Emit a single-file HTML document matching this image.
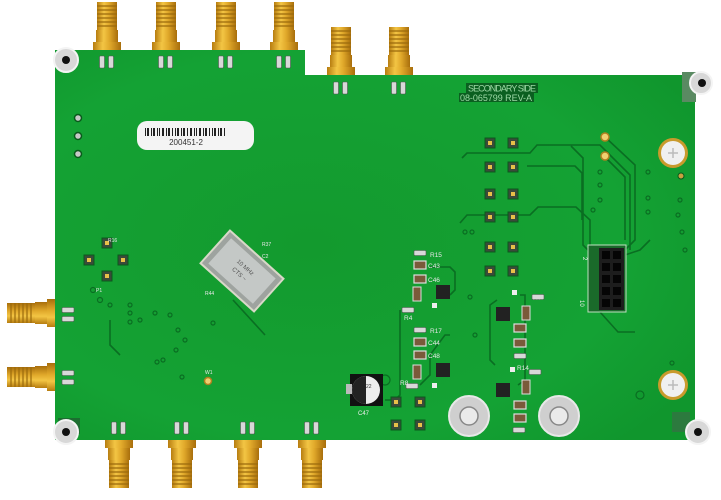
<!DOCTYPE html>
<html><head><meta charset="utf-8"><style>
html,body{margin:0;padding:0;background:#fff;}
svg{display:block;}
text{font-family:"Liberation Sans",sans-serif;}
</style></head><body>
<svg width="721" height="500" viewBox="0 0 721 500" xmlns="http://www.w3.org/2000/svg">
<defs>
<linearGradient id="gold" x1="0" x2="1" y1="0" y2="0">
<stop offset="0" stop-color="#b77d10"/><stop offset="0.35" stop-color="#f3c544"/><stop offset="0.6" stop-color="#e0a82a"/><stop offset="1" stop-color="#a86e0c"/></linearGradient>
<linearGradient id="goldv" x1="0" x2="0" y1="0" y2="1">
<stop offset="0" stop-color="#b77d10"/><stop offset="0.35" stop-color="#f3c544"/><stop offset="0.6" stop-color="#e0a82a"/><stop offset="1" stop-color="#a86e0c"/></linearGradient>
<radialGradient id="brd" cx="0.4" cy="0.5" r="0.7">
<stop offset="0" stop-color="#139a2e"/><stop offset="0.7" stop-color="#14a234"/><stop offset="1" stop-color="#10962d"/></radialGradient>
<g id="smaV">
<rect x="-14" y="-8" width="28" height="10" fill="url(#gold)"/>
<rect x="-11" y="-20" width="22" height="12" fill="url(#gold)"/>
<rect x="-10" y="-48" width="20" height="28" fill="url(#gold)"/>
<g stroke="#9a6a0c" stroke-width="1.2"><line x1="-10" y1="-44" x2="10" y2="-44"/><line x1="-10" y1="-40" x2="10" y2="-40"/><line x1="-10" y1="-36" x2="10" y2="-36"/><line x1="-10" y1="-32" x2="10" y2="-32"/><line x1="-10" y1="-28" x2="10" y2="-28"/><line x1="-10" y1="-24" x2="10" y2="-24"/></g>
</g>
<g id="pad"><rect x="-5" y="-5" width="10" height="10" fill="#3b4a3a" stroke="#0a5a1c"/><rect x="-2" y="-2" width="4" height="4" fill="#e8c048"/></g>
<g id="res"><rect x="-2.5" y="-6" width="5" height="12" rx="1" fill="#d8d8d8" stroke="#555" stroke-width="0.6"/></g>
<g id="cap"><rect x="-6" y="-4" width="12" height="8" fill="#7a5a3a" stroke="#ddd" stroke-width="1.2"/></g>
<g id="ic"><rect x="-7" y="-7" width="14" height="14" fill="#222"/></g>
</defs>

<!-- top SMAs -->
<use href="#smaV" x="107" y="50"/>
<use href="#smaV" x="166" y="50"/>
<use href="#smaV" x="226" y="50"/>
<use href="#smaV" x="284" y="50"/>
<use href="#smaV" x="341" y="75"/>
<use href="#smaV" x="399" y="75"/>

<!-- bottom SMAs -->
<g transform="translate(119,440) scale(1,-1)"><use href="#smaV"/></g>
<g transform="translate(182,440) scale(1,-1)"><use href="#smaV"/></g>
<g transform="translate(248,440) scale(1,-1)"><use href="#smaV"/></g>
<g transform="translate(312,440) scale(1,-1)"><use href="#smaV"/></g>

<!-- left SMAs -->
<g transform="translate(55,313) rotate(-90)"><use href="#smaV"/></g>
<g transform="translate(55,377) rotate(-90)"><use href="#smaV"/></g>

<!-- board -->
<path d="M55,50 H305 V75 H695 V440 H55 Z" fill="url(#brd)"/>

<!-- silkscreen text -->
<rect x="466" y="83" width="72" height="10" fill="#0b5f20"/>
<text x="502" y="91.5" font-size="9" fill="#9ed9a6" text-anchor="middle" textLength="68">SECONDARY SIDE</text>
<rect x="459" y="93" width="75" height="9" fill="#0b5f20"/>
<text x="496" y="101" font-size="9" fill="#9ed9a6" text-anchor="middle" textLength="72">08-065799 REV-A</text>

<!-- barcode label -->
<rect x="137" y="121" width="117" height="29" rx="10" fill="#f4f4f4"/>
<g fill="#222">
<rect x="145" y="128" width="1" height="8"/><rect x="147" y="128" width="2" height="8"/><rect x="151" y="128" width="1" height="8"/><rect x="153" y="128" width="2" height="8"/><rect x="157" y="128" width="1" height="8"/><rect x="159" y="128" width="1" height="8"/><rect x="162" y="128" width="2" height="8"/><rect x="166" y="128" width="1" height="8"/><rect x="168" y="128" width="2" height="8"/><rect x="172" y="128" width="1" height="8"/><rect x="175" y="128" width="1" height="8"/><rect x="177" y="128" width="2" height="8"/><rect x="181" y="128" width="1" height="8"/><rect x="183" y="128" width="2" height="8"/><rect x="187" y="128" width="1" height="8"/><rect x="190" y="128" width="2" height="8"/><rect x="194" y="128" width="1" height="8"/><rect x="196" y="128" width="1" height="8"/><rect x="199" y="128" width="2" height="8"/><rect x="203" y="128" width="1" height="8"/><rect x="205" y="128" width="2" height="8"/><rect x="209" y="128" width="1" height="8"/><rect x="212" y="128" width="1" height="8"/><rect x="214" y="128" width="2" height="8"/><rect x="218" y="128" width="1" height="8"/><rect x="220" y="128" width="2" height="8"/><rect x="224" y="128" width="1" height="8"/>
</g>
<text x="186" y="145" font-size="8" fill="#333" font-family="Liberation Mono,monospace" text-anchor="middle">200451-2</text>

<!-- left vias -->
<g fill="#c8c8c8" stroke="#0a5a1c" stroke-width="1.5">
<circle cx="78" cy="118" r="3.5"/><circle cx="78" cy="136" r="3.5"/><circle cx="78" cy="154" r="3.5"/>
</g>

<!-- traces -->
<g fill="none" stroke="#0a6e22" stroke-width="1.6">
<path d="M460,223 L467,215 H530 L538,207 H576 L590,220 V258"/>
<path d="M462,158 L467,153 H530 L537,145 H600 L630,175 V250"/>
<path d="M527,166 H575 L582,173 V220"/>
<path d="M605,137 L635,165 V240 L620,255"/>
<path d="M605,157 L625,177 V240"/>
<path d="M571,146 L583,158 V245 L590,252"/>
<path d="M650,240 L640,250 L625,255"/>
<path d="M600,312 L618,332 H635"/>
<path d="M400,310 V395 L395,400 H385"/>
<path d="M430,267 H450 L455,272 V290 L450,295"/>
<path d="M450,335 H445 L430,355 V375 L420,385"/>
<path d="M497,300 L490,305 V360 L495,365"/>
<path d="M520,295 H525 V380 L518,385"/>
<path d="M233,300 L265,335"/>
<path d="M110,320 V345 L120,355"/>
</g>

<!-- pads -->
<use href="#pad" x="490" y="143"/><use href="#pad" x="513" y="143"/>
<use href="#pad" x="490" y="167"/><use href="#pad" x="513" y="167"/>
<use href="#pad" x="490" y="194"/><use href="#pad" x="513" y="194"/>
<use href="#pad" x="490" y="217"/><use href="#pad" x="513" y="217"/>
<use href="#pad" x="490" y="247"/><use href="#pad" x="513" y="247"/>
<use href="#pad" x="490" y="271"/><use href="#pad" x="513" y="271"/>
<use href="#pad" x="396" y="402"/><use href="#pad" x="420" y="402"/>
<use href="#pad" x="396" y="425"/><use href="#pad" x="420" y="425"/>
<use href="#pad" x="107" y="243"/><use href="#pad" x="89" y="260"/><use href="#pad" x="123" y="260"/><use href="#pad" x="107" y="276"/>

<!-- gold vias -->
<g fill="#f0d070" stroke="#b08020" stroke-width="1.5">
<circle cx="605" cy="137" r="4"/><circle cx="605" cy="156" r="4"/><circle cx="208" cy="381" r="3.5"/>
</g>
<g fill="none" stroke="#0a6e22" stroke-width="1.2">
<circle cx="385" cy="380" r="5"/><circle cx="685" cy="250" r="2"/><circle cx="672" cy="363" r="2"/><circle cx="640" cy="395" r="4"/>
<circle cx="93" cy="290" r="2.5"/><circle cx="100" cy="300" r="2.5"/><circle cx="110" cy="305" r="2"/><circle cx="130" cy="305" r="2"/><circle cx="130" cy="313" r="2"/><circle cx="130" cy="322" r="2"/><circle cx="140" cy="320" r="2"/><circle cx="155" cy="313" r="2"/><circle cx="170" cy="315" r="2"/><circle cx="178" cy="330" r="2"/><circle cx="185" cy="340" r="2"/><circle cx="176" cy="350" r="2"/><circle cx="163" cy="360" r="2"/><circle cx="157" cy="362" r="2"/><circle cx="182" cy="377" r="2"/><circle cx="213" cy="323" r="2"/><circle cx="470" cy="297" r="2"/><circle cx="475" cy="335" r="2"/><circle cx="465" cy="232" r="2"/><circle cx="472" cy="232" r="2"/>
<circle cx="600" cy="172" r="2"/><circle cx="600" cy="185" r="2"/><circle cx="600" cy="200" r="2"/><circle cx="648" cy="172" r="2"/><circle cx="648" cy="198" r="2"/><circle cx="648" cy="212" r="2"/><circle cx="680" cy="200" r="2"/><circle cx="678" cy="215" r="2"/><circle cx="682" cy="232" r="2"/><circle cx="593" cy="210" r="2"/>
</g>

<!-- crystal -->
<g transform="translate(242,271) rotate(42)">
<rect x="-36" y="-22" width="72" height="44" fill="#9ea39f" stroke="#d8d8c8" stroke-width="2"/>
<rect x="-30" y="-17" width="60" height="34" fill="#c4c8c6"/>
<text x="0" y="-3" font-size="6" fill="#555" text-anchor="middle">10 MHz</text>
<text x="0" y="6" font-size="6" fill="#555" text-anchor="middle">CTS ~</text>
</g>
<g fill="#e8e8e8" font-size="5"><text x="262" y="246">R37</text><text x="262" y="258">C2</text><text x="205" y="295">R44</text><text x="108" y="242">R16</text><text x="96" y="292">P1</text><text x="205" y="374">W1</text></g>

<!-- parts column 1 -->
<use href="#res" transform="translate(420,253) rotate(90)"/>
<use href="#cap" x="420" y="265"/><use href="#cap" x="420" y="279"/>
<rect x="413" y="287" width="8" height="14" fill="#7a5a3a" stroke="#ddd"/>
<use href="#ic" x="443" y="292"/>
<use href="#res" transform="translate(408,310) rotate(90)"/>
<use href="#res" transform="translate(420,330) rotate(90)"/>
<use href="#cap" x="420" y="342"/><use href="#cap" x="420" y="355"/>
<rect x="413" y="365" width="8" height="14" fill="#7a5a3a" stroke="#ddd"/>
<use href="#ic" x="443" y="370"/>
<use href="#res" transform="translate(412,386) rotate(90)"/>
<g fill="#e8e8e8" font-size="6.5"><text x="430" y="257">R15</text><text x="428" y="268">C43</text><text x="428" y="282">C46</text><text x="430" y="333">R17</text><text x="428" y="345">C44</text><text x="428" y="358">C48</text><text x="400" y="385">R8</text><text x="404" y="320">R4</text><text x="517" y="370">R14</text><text x="533" y="300">R7</text></g>

<!-- parts column 2 -->
<use href="#ic" x="503" y="314"/>
<rect x="522" y="306" width="8" height="14" fill="#7a5a3a" stroke="#ddd"/>
<use href="#cap" x="520" y="328"/><use href="#cap" x="520" y="343"/>
<use href="#res" transform="translate(520,356) rotate(90)"/>
<use href="#ic" x="503" y="390"/>
<rect x="522" y="380" width="8" height="14" fill="#7a5a3a" stroke="#ddd"/>
<use href="#cap" x="520" y="405"/><use href="#cap" x="520" y="418"/>
<use href="#res" transform="translate(519,430) rotate(90)"/>
<use href="#res" transform="translate(538,297) rotate(90)"/>
<use href="#res" transform="translate(535,372) rotate(90)"/>
<g fill="#eee"><rect x="512" y="290" width="5" height="5"/><rect x="432" y="303" width="5" height="5"/><rect x="432" y="383" width="5" height="5"/><rect x="510" y="367" width="5" height="5"/></g>

<!-- electrolytic cap -->
<rect x="350" y="374" width="33" height="32" fill="#111"/>
<rect x="346" y="384" width="6" height="10" fill="#bbb"/>
<circle cx="366" cy="390" r="14" fill="#ececec"/>
<path d="M366,376 A14,14 0 0,0 366,404 Z" fill="#222"/>
<text x="366" y="388" font-size="5" fill="#333">22</text>
<text x="358" y="415" font-size="6" fill="#eee">C47</text>

<!-- washers -->
<circle cx="469" cy="416" r="20" fill="#cfcfcf" stroke="#e8e8e8" stroke-width="2"/>
<circle cx="469" cy="416" r="9" fill="#eaeaea" stroke="#888" stroke-width="1.5"/>
<circle cx="559" cy="416" r="20" fill="#cfcfcf" stroke="#e8e8e8" stroke-width="2"/>
<circle cx="559" cy="416" r="9" fill="#eaeaea" stroke="#888" stroke-width="1.5"/>

<!-- right screws -->
<circle cx="673" cy="153" r="15" fill="#c99a2c"/><circle cx="673" cy="153" r="12" fill="#f0f0f0"/>
<path d="M668,153 H678 M673,148 V158" stroke="#bbb" stroke-width="1.5"/>
<circle cx="673" cy="385" r="15" fill="#c99a2c"/><circle cx="673" cy="385" r="12" fill="#f0f0f0"/>
<path d="M668,385 H678 M673,380 V390" stroke="#bbb" stroke-width="1.5"/>
<circle cx="681" cy="176" r="3" fill="#c9a040" stroke="#0a5a1c"/>

<!-- header -->
<rect x="588" y="245" width="38" height="67" fill="#1a6a2a" stroke="#bfe0c0" stroke-width="1"/>
<rect x="599" y="248" width="25" height="62" fill="#1d1d1d"/>
<g fill="#050505">
<rect x="602" y="251" width="8" height="8"/><rect x="613" y="251" width="8" height="8"/>
<rect x="602" y="263" width="8" height="8"/><rect x="613" y="263" width="8" height="8"/>
<rect x="602" y="275" width="8" height="8"/><rect x="613" y="275" width="8" height="8"/>
<rect x="602" y="287" width="8" height="8"/><rect x="613" y="287" width="8" height="8"/>
<rect x="602" y="299" width="8" height="8"/><rect x="613" y="299" width="8" height="8"/>
</g>
<text x="583" y="257" font-size="6" fill="#eee" transform="rotate(90 583 257)">2</text>
<text x="580" y="300" font-size="6" fill="#eee" transform="rotate(90 580 300)">10</text>

<!-- resistor pairs near SMAs -->
<g>
<use href="#res" x="102" y="62"/><use href="#res" x="111" y="62"/>
<use href="#res" x="161" y="62"/><use href="#res" x="170" y="62"/>
<use href="#res" x="221" y="62"/><use href="#res" x="230" y="62"/>
<use href="#res" x="279" y="62"/><use href="#res" x="288" y="62"/>
<use href="#res" x="336" y="88"/><use href="#res" x="345" y="88"/>
<use href="#res" x="394" y="88"/><use href="#res" x="403" y="88"/>
<use href="#res" x="114" y="428"/><use href="#res" x="123" y="428"/>
<use href="#res" x="177" y="428"/><use href="#res" x="186" y="428"/>
<use href="#res" x="243" y="428"/><use href="#res" x="252" y="428"/>
<use href="#res" x="307" y="428"/><use href="#res" x="316" y="428"/>
<use href="#res" transform="translate(68,310) rotate(90)"/><use href="#res" transform="translate(68,319) rotate(90)"/>
<use href="#res" transform="translate(68,373) rotate(90)"/><use href="#res" transform="translate(68,382) rotate(90)"/>
</g>

<!-- standoffs -->
<circle cx="66" cy="60" r="12" fill="#d8d8d8" stroke="#f4f4f4" stroke-width="2"/><circle cx="66" cy="60" r="4" fill="#111"/>
<rect x="682" y="72" width="14" height="30" fill="#5a8a62"/>
<circle cx="701" cy="83" r="11" fill="#d8d8d8" stroke="#f4f4f4" stroke-width="2"/><circle cx="702" cy="83" r="4" fill="#111"/>
<rect x="58" y="418" width="22" height="16" fill="#1c6e30"/>
<circle cx="66" cy="432" r="12" fill="#d8d8d8" stroke="#f4f4f4" stroke-width="2"/><circle cx="66" cy="432" r="4" fill="#111"/>
<rect x="672" y="412" width="18" height="20" fill="#2c7a3e"/>
<circle cx="698" cy="432" r="12" fill="#d8d8d8" stroke="#f4f4f4" stroke-width="2"/><circle cx="698" cy="432" r="4" fill="#111"/>
</svg>
</body></html>
